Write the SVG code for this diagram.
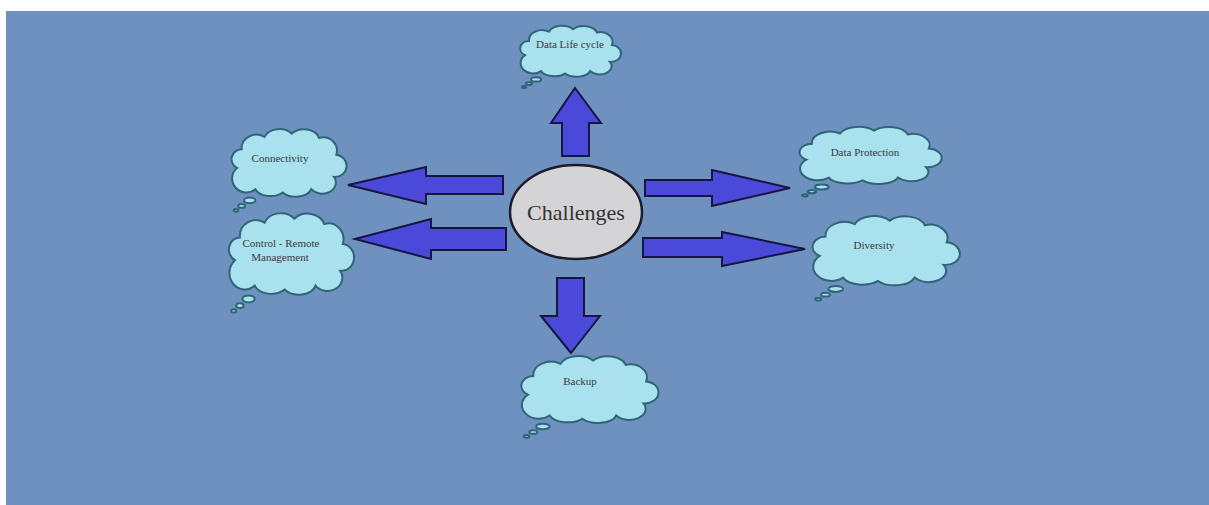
<svg xmlns="http://www.w3.org/2000/svg" width="1209" height="505" viewBox="0 0 1209 505">
<style>
.cloud{fill:#A9E1EF;stroke:#2F6677;stroke-width:2;vector-effect:non-scaling-stroke}
.lbl{font-size:11px;fill:#3a3a3a;text-anchor:middle}
.arrow{fill:#4A49D9;stroke:#161640;stroke-width:2;stroke-linejoin:miter}
</style>
<defs>
<symbol id="cloud" viewBox="0 0 100 80" preserveAspectRatio="none" overflow="visible">
<path class="cloud" d="M8,36 A9,9 0 0 1 12,19 A13,12 0 0 1 32,8 A14,11 0 0 1 56,5 A14,11 0 0 1 80,9 A12,12 0 0 1 95,24 A10,10 0 0 1 93,44 A12,10 0 0 1 73,55 A14,9 0 0 1 48,58 A14,9 0 0 1 24,55 A10,10 0 0 1 8,36 Z"/>
<ellipse class="cloud" cx="19" cy="65" rx="5" ry="2.6"/>
<ellipse class="cloud" cx="12" cy="70" rx="3" ry="1.7"/>
<ellipse class="cloud" cx="7" cy="74" rx="2" ry="1.2"/>
</symbol>
</defs>
<rect x="0" y="0" width="1209" height="505" fill="#ffffff"/>
<rect x="6" y="11" width="1203" height="494" fill="#6F91BF"/>

<g id="connectors">
<path class="arrow" d="M575,88 L601,123 L589,123 L589,156 L562,156 L562,123 L551,123 Z"/>
<path class="arrow" d="M348,185 L426,167 L426,176 L503,176 L503,194 L426,194 L426,204 Z"/>
<path class="arrow" d="M355,239 L431,219 L431,228 L506,228 L506,250 L431,250 L431,259 Z"/>
<path class="arrow" d="M790,188 L712,170 L712,180 L645,180 L645,196 L712,196 L712,206 Z"/>
<path class="arrow" d="M805,249 L722,232 L722,238 L643,238 L643,257 L722,257 L722,266 Z"/>
<path class="arrow" d="M571,353 L541,316 L557,316 L557,278 L584,278 L584,316 L600,316 Z"/>
</g>

<g id="challenges">
<ellipse cx="576" cy="212" rx="66" ry="47" fill="#D4D4D6" stroke="#1b1b2a" stroke-width="2.5"/>
<text x="576" y="220" font-family="Liberation Serif, serif" font-size="22" fill="#333" text-anchor="middle">Challenges</text>
</g>

<g id="data-life-cycle">
<use href="#cloud" x="517" y="25" width="100" height="67"/>
<text class="lbl" font-family="Liberation Serif, serif" x="570" y="48">Data Life cycle</text>
</g>
<g id="connectivity">
<use href="#cloud" x="228" y="128" width="114" height="89"/>
<text class="lbl" font-family="Liberation Serif, serif" x="280" y="162">Connectivity</text>
</g>
<g id="control-remote">
<use href="#cloud" x="225" y="212" width="124" height="107"/>
<text class="lbl" font-family="Liberation Serif, serif" x="281" y="247">Control - Remote</text>
<text class="lbl" font-family="Liberation Serif, serif" x="280" y="261">Management</text>
</g>
<g id="data-protection">
<use href="#cloud" x="795" y="126" width="141" height="75"/>
<text class="lbl" font-family="Liberation Serif, serif" x="865" y="156">Data Protection</text>
</g>
<g id="diversity">
<use href="#cloud" x="808" y="215" width="146" height="91"/>
<text class="lbl" font-family="Liberation Serif, serif" x="874" y="249">Diversity</text>
</g>
<g id="backup">
<use href="#cloud" x="517" y="355" width="136" height="88"/>
<text class="lbl" font-family="Liberation Serif, serif" x="580" y="385">Backup</text>
</g>
</svg>
